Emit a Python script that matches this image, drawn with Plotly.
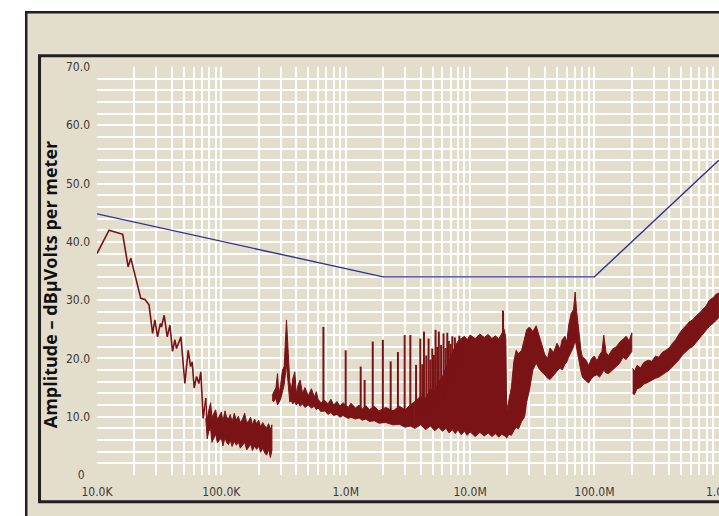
import plotly.graph_objects as go

# Frequencies in MHz, levels in dBuV/m

# limit line
LIMIT_F = [0.01, 2.0, 100.0, 1000.0]
LIMIT_DB = [44.8, 34.0, 34.0, 54.0]

# 10 kHz .. 75 kHz, single thin trace
SEG1_F = [0.0100, 0.0125, 0.0144, 0.0161, 0.0178, 0.0187, 0.0225, 0.0243, 0.0262,
          0.0280, 0.0292, 0.0307, 0.0323, 0.0330, 0.0347, 0.0367, 0.0386, 0.0405,
          0.0423, 0.0436, 0.0473, 0.0493, 0.0509, 0.0541, 0.0566, 0.0583, 0.0605,
          0.0632, 0.0659, 0.0684, 0.0714, 0.0751]
SEG1_DB = [38.0, 42.0, 41.6, 41.3, 35.7, 37.2, 30.3, 30.1, 29.2,
           24.3, 26.6, 23.7, 26.0, 25.4, 27.4, 23.7, 25.7, 21.2,
           23.2, 21.7, 23.7, 19.2, 15.7, 21.4, 18.6, 19.4, 14.9,
           16.9, 15.7, 17.7, 9.7, 13.2]

# 75 kHz .. 255 kHz noise floor (upper / lower envelope)
BAND1_F = [0.075, 0.077, 0.079, 0.082, 0.084, 0.087, 0.09, 0.093, 0.096, 0.1, 0.103, 0.107,
           0.11, 0.114, 0.118, 0.122, 0.127, 0.132, 0.137, 0.142, 0.148, 0.154, 0.16, 0.166,
           0.172, 0.178, 0.185, 0.192, 0.2, 0.207, 0.215, 0.223, 0.231, 0.24, 0.248, 0.255]
BAND1_HI = [13.2, 9.4, 11.0, 12.4, 9.9, 10.6, 11.2, 9.5, 10.1, 10.8, 9.2, 11.0,
            10.0, 9.6, 10.4, 9.1, 10.6, 9.4, 10.1, 9.0, 9.6, 10.6, 8.9, 9.3,
            9.9, 8.6, 9.6, 8.8, 9.4, 8.2, 9.0, 8.4, 8.1, 8.8, 7.8, 8.6]
BAND1_LO = [9.7, 6.2, 7.4, 8.0, 5.6, 6.4, 7.0, 5.5, 5.9, 6.3, 5.0, 6.4,
            5.6, 5.2, 6.0, 4.9, 5.8, 5.1, 5.7, 4.6, 5.0, 5.6, 4.3, 4.8,
            5.3, 4.2, 5.0, 4.4, 4.9, 3.9, 4.6, 3.8, 3.4, 4.4, 3.0, 4.2]

# 255 kHz .. 3.6 MHz floor
BAND2_F = [0.256, 0.265, 0.275, 0.283, 0.29, 0.30, 0.31, 0.32, 0.334, 0.345, 0.355, 0.365,
           0.375, 0.39, 0.40, 0.415, 0.43, 0.45, 0.47, 0.50, 0.53, 0.56, 0.58, 0.60,
           0.63, 0.68, 0.72, 0.76, 0.80, 0.85, 0.90, 0.95, 1.05, 1.1, 1.2, 1.28,
           1.36, 1.45, 1.55, 1.7, 1.85, 2.1, 2.4, 2.7, 3.0, 3.3, 3.6]
BAND2_HI = [13.6, 14.2, 15.0, 17.4, 13.8, 15.5, 18.0, 18.6, 26.6, 21.0, 16.0, 14.5,
            16.5, 17.7, 14.0, 15.5, 16.3, 14.0, 15.0, 13.6, 14.8, 13.4, 14.3, 13.0,
            12.4, 12.8, 12.2, 13.0, 12.0, 12.6, 11.8, 12.4, 11.6, 12.3, 11.5, 12.0,
            11.3, 11.9, 11.2, 11.8, 11.0, 11.6, 11.0, 11.8, 11.2, 12.0, 12.6]
BAND2_LO = [12.8, 12.6, 13.2, 12.0, 12.4, 13.0, 14.0, 15.5, 19.0, 15.0, 12.5, 12.8,
            12.2, 12.6, 12.0, 12.4, 11.8, 12.2, 11.6, 12.0, 11.5, 11.8, 11.2, 11.5,
            10.9, 11.0, 10.4, 10.7, 10.2, 10.4, 9.9, 10.2, 9.7, 9.9, 9.6, 9.8,
            9.4, 9.6, 9.2, 9.3, 8.9, 9.0, 8.6, 8.7, 8.2, 8.4, 8.0]

# 3.6 MHz .. 200 MHz dense comb
BAND3_F = [3.6, 4.0, 4.4, 4.8, 5.2, 5.6, 6.0, 6.4, 6.8, 7.2, 7.6, 8.0, 8.5, 9.0, 9.5,
           10, 11, 12, 13, 14, 15, 16, 17, 18, 18.8, 19.4, 19.7, 20.5, 21.5, 22.5,
           23.5, 24.5, 26, 27.5, 28.5, 30, 32, 34, 36, 38, 40, 42, 44, 47, 50, 53,
           55, 58, 60, 62, 65, 68, 70, 72, 75, 78, 80, 85, 90, 95, 100, 105, 110,
           115, 119, 124, 130, 140, 150, 160, 170, 180, 190, 200]
BAND3_HI = [12.6, 13.5, 13.2, 14.8, 14.4, 16.0, 16.8, 18.5, 19.5, 21.0, 22.0, 23.0, 23.4, 23.8, 23.2,
            24.0, 23.4, 24.2, 23.6, 24.1, 23.4, 23.9, 23.3, 24.3, 25.0, 23.5, 11.0, 12.8, 15.0, 19.5,
            21.4, 20.8, 21.4, 23.5, 24.9, 25.4, 24.6, 25.6, 23.8, 22.4, 20.6, 20.0, 21.8, 21.0, 22.6, 21.6,
            23.2, 23.8, 22.8, 25.6, 27.7, 28.4, 31.4, 28.0, 24.0, 21.4, 20.3, 19.8, 18.8, 20.0, 20.4, 19.6, 20.6,
            21.2, 24.0, 21.0, 20.5, 21.6, 22.0, 22.8, 23.3, 23.8, 23.0, 24.4]
BAND3_LO = [8.0, 8.6, 7.8, 8.4, 7.6, 8.2, 7.5, 8.0, 7.2, 7.8, 7.1, 7.7, 6.9, 7.5, 6.8,
            7.4, 6.6, 7.3, 6.7, 7.2, 6.6, 7.1, 6.5, 7.0, 6.8, 6.6, 6.3, 7.0, 6.8, 7.6,
            8.2, 7.9, 9.2, 10.0, 12.5, 14.5, 18.0, 19.2, 18.2, 17.6, 17.2, 16.6, 16.4, 17.2, 17.8, 18.4,
            18.0, 19.0, 19.4, 20.2, 21.2, 22.0, 23.2, 21.8, 19.6, 17.8, 16.8, 16.2, 15.8, 16.6, 17.0, 17.2, 16.8,
            17.4, 18.0, 17.5, 17.4, 18.0, 18.6, 19.2, 20.2, 19.8, 20.6, 21.2]

# 203 MHz .. 1 GHz
BAND4_F = [203, 210, 220, 235, 250, 270, 290, 310, 330, 350, 375, 400, 425, 450,
           480, 510, 545, 580, 615, 650, 700, 740, 790, 840, 900, 950, 1000]
BAND4_HI = [18.3, 17.8, 18.8, 18.4, 19.3, 19.7, 19.5, 20.4, 20.2, 21.0, 21.4, 21.8, 22.6, 23.2,
            24.2, 25.0, 25.6, 26.3, 26.6, 27.2, 27.8, 28.4, 29.0, 30.0, 30.4, 31.0, 31.2]
BAND4_LO = [14.0, 13.8, 14.8, 15.0, 15.6, 15.9, 16.2, 16.6, 16.8, 17.1, 17.6, 18.0, 18.6, 19.1,
            19.8, 20.6, 21.2, 21.7, 22.0, 22.6, 23.4, 24.0, 24.8, 25.5, 26.0, 26.5, 27.0]

# narrow spikes: frequency, peak, floor under it
SPIKE_F = [0.662, 1.0, 1.32, 1.42, 1.65, 1.99, 2.30, 2.63, 2.98, 3.31, 3.68, 3.98,
           4.13, 4.26, 4.45, 4.64, 4.80, 4.97, 5.12, 5.28, 5.45, 5.61, 5.85, 6.12,
           6.35, 6.56, 6.75, 6.97, 7.20, 7.55, 7.80, 8.20, 8.50, 18.4]
SPIKE_PEAK = [25.4, 21.4, 18.6, 16.3, 22.9, 23.2, 19.5, 21.1, 24.0, 24.0, 18.9, 23.4,
              19.0, 24.6, 20.5, 23.4, 19.8, 21.7, 20.6, 24.9, 22.0, 24.6, 22.3, 24.3,
              21.8, 24.4, 23.0, 22.5, 23.8, 23.6, 22.6, 23.9, 23.2, 28.2]
SPIKE_BASE = [11.5, 10.2, 9.8, 9.7, 9.6, 9.4, 9.2, 9.0, 9.0, 9.2, 9.5, 10.0,
              10.0, 10.5, 10.5, 10.5, 11.0, 11.0, 11.0, 11.0, 12.0, 12.0, 12.0, 13.0,
              13.5, 14.0, 14.5, 15.0, 15.5, 16.0, 17.0, 18.0, 18.0, 20.0]

X_TICKS = [0.01, 0.1, 1, 10, 100, 1000]
X_LABELS = ["10.0K", "100.0K", "1.0M", "10.0M", "100.0M", "1.0G"]
X_MINOR = [m * 10 ** e for e in range(-2, 3) for m in range(2, 10)]
Y_TICKS = [0, 10, 20, 30, 40, 50, 60, 70]
Y_LABELS = ["0\u2002", "10.0", "20.0", "30.0", "40.0", "50.0", "60.0", "70.0"]
Y_MINOR = [v for v in range(2, 70, 2) if v % 10]

RED = "#7a1315"
BLUE = "#2f3393"
BEIGE = "#e3ddcc"
BORDER = "#231f20"
TICK_FONT = dict(family="Liberation Sans Narrow, DejaVu Sans Condensed, sans-serif", size=12, color="#3a3a3a")

fig = go.Figure()


def band(f, hi, lo):
    return go.Scatter(x=f + f[::-1], y=hi + lo[::-1], mode="lines", fill="toself",
                      fillcolor=RED, line=dict(color=RED, width=1), hoverinfo="skip")


fig.add_trace(go.Scatter(x=SEG1_F, y=SEG1_DB, mode="lines", line=dict(color=RED, width=1.6), hoverinfo="skip"))
for f, hi, lo in [(BAND1_F, BAND1_HI, BAND1_LO), (BAND2_F, BAND2_HI, BAND2_LO),
                  (BAND3_F, BAND3_HI, BAND3_LO), (BAND4_F, BAND4_HI, BAND4_LO)]:
    fig.add_trace(band(f, hi, lo))

sx, sy = [], []
for f, pk, base in zip(SPIKE_F, SPIKE_PEAK, SPIKE_BASE):
    sx += [f, f, None]
    sy += [base, pk, None]
fig.add_trace(go.Scatter(x=sx, y=sy, mode="lines", line=dict(color=RED, width=2), hoverinfo="skip"))

fig.add_trace(go.Scatter(x=LIMIT_F, y=LIMIT_DB, mode="lines", line=dict(color=BLUE, width=1.4), hoverinfo="skip"))

fig.add_shape(type="rect", xref="paper", yref="paper", x0=-0.1138, x1=1.2, y0=-0.3, y1=1.1343,
              fillcolor=BEIGE, line=dict(color=BORDER, width=2.5), layer="below")
fig.add_shape(type="rect", xref="paper", yref="paper", x0=-0.0924, x1=1.2, y0=-0.0654, y1=1.0275,
              fillcolor=BEIGE, line=dict(color=BORDER, width=3), layer="below")

fig.add_annotation(text="Amplitude \u2013 dB\u03bcVolts per meter", xref="paper", yref="paper",
                   x=-0.0743, y=0.467, xanchor="center", yanchor="middle", textangle=-90, showarrow=False,
                   font=dict(family="Open Sans, Liberation Sans, sans-serif", size=18, color="#111111", weight="bold"))

fig.update_layout(
    width=719, height=516, autosize=False,
    margin=dict(l=97, r=0, t=67, b=41, autoexpand=False),
    paper_bgcolor="white", plot_bgcolor="rgba(0,0,0,0)",
    showlegend=False,
    xaxis=dict(type="log", range=[-2, 3.002], tickmode="array", tickvals=X_TICKS, ticktext=X_LABELS,
               showgrid=True, gridcolor="white", gridwidth=2,
               minor=dict(tickvals=X_MINOR, showgrid=True, gridcolor="white", gridwidth=2),
               showline=False, zeroline=False, ticks="", ticklabelstandoff=8, tickfont=TICK_FONT,
               ticklabeloverflow="allow", automargin=False),
    yaxis=dict(range=[0, 70], tickmode="array", tickvals=Y_TICKS, ticktext=Y_LABELS,
               showgrid=True, gridcolor="white", gridwidth=2,
               minor=dict(tickvals=Y_MINOR, showgrid=True, gridcolor="white", gridwidth=2),
               showline=False, zeroline=False, ticks="", ticklabelstandoff=6, tickfont=TICK_FONT,
               automargin=False),
)

# drop the default 8px page margin so the figure fills the window
fig.write_html("out.html", config={"displayModeBar": False},
               post_script="document.body.style.margin='0px';document.body.style.overflow='hidden';")
